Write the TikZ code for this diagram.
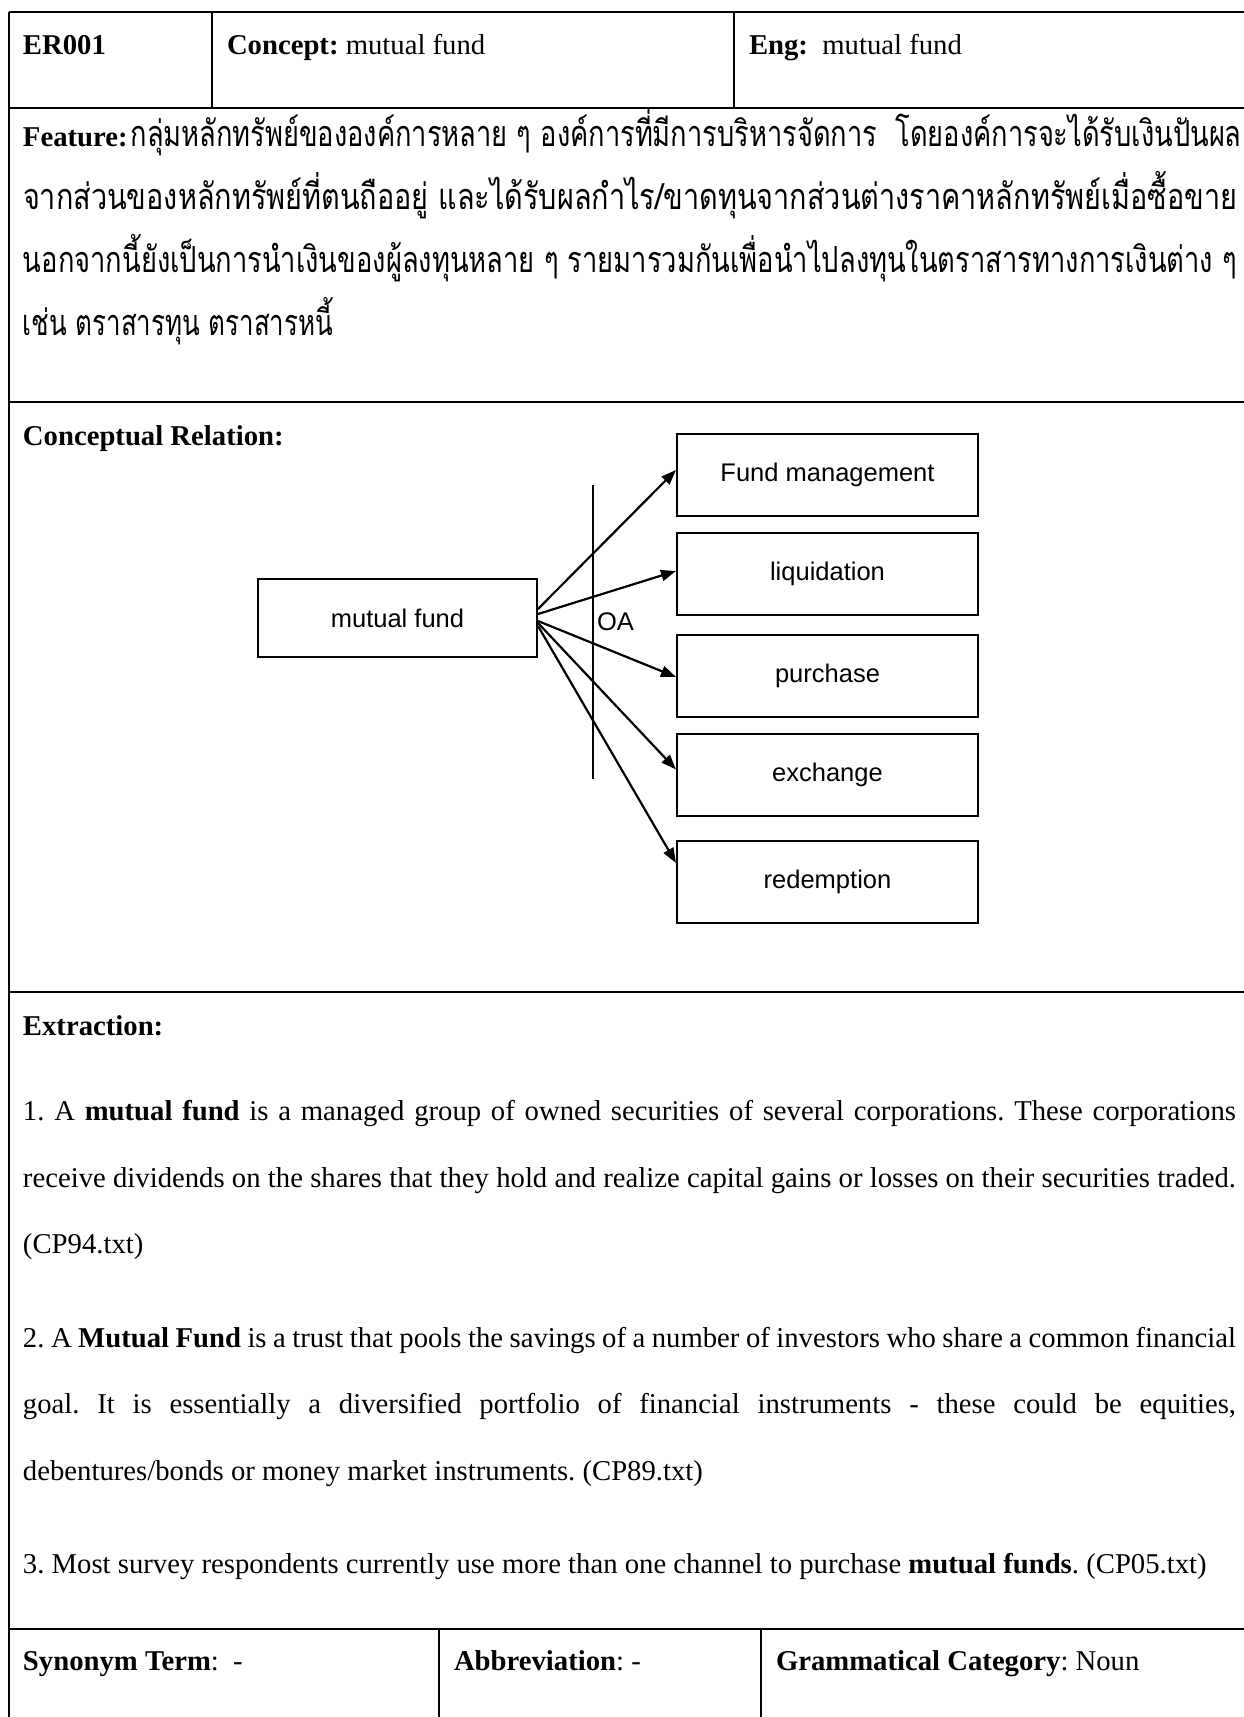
\documentclass[tikz,border=0pt]{standalone}
\usepackage{fontspec}
\usepackage{graphicx}
\setmainfont{Liberation Serif}
\newfontfamily\diagfont{Liberation Sans}
\newfontfamily\thaifont[Script=Thai]{Loma}
\usetikzlibrary{arrows.meta,calc}
\frenchspacing

% one line of Thai text, squeezed to a given width at constant height
\newcommand{\thailine}[2]{\resizebox{#1}{\height}{\thaifont\fontsize{36}{42}\selectfont #2}}
% one justified line of body text
\newcommand{\jline}[1]{\makebox[1213pt][s]{#1}}

\begin{document}
\begin{tikzpicture}[x=1pt,y=-1pt,
  font=\fontsize{28.7}{34}\selectfont,
  rule/.style={line width=2pt},
  txt/.style={anchor=base west,inner sep=0pt,outer sep=0pt},
  conceptbox/.style={draw,line width=2pt,minimum width=301pt,minimum height=82pt,
    inner sep=0pt,font=\diagfont\fontsize{25.5}{30}\selectfont},
  arr/.style={line width=2.2pt,-{Triangle[length=15pt,width=11pt]}}]
\useasboundingbox (0,0) rectangle (1244,1717);

% ---- table rules ----
\draw[rule] (9,12) -- (1244,12);
\draw[rule] (9,12) -- (9,1717);
\draw[rule] (9,108) -- (1244,108);
\draw[rule] (9,402) -- (1244,402);
\draw[rule] (9,992) -- (1244,992);
\draw[rule] (9,1629) -- (1244,1629);
\draw[rule] (212,12) -- (212,108);
\draw[rule] (734,12) -- (734,108);
\draw[rule] (439,1629) -- (439,1717);
\draw[rule] (761,1629) -- (761,1717);

% ---- header row ----
\node[txt] (id) at (23,54) {\textbf{ER001}};
\node[txt] (concept) at (227,54) {\textbf{Concept:} mutual fund};
\node[txt] (eng) at (749,54) {\textbf{Eng:}\ \ mutual fund};

% ---- feature ----
\node[txt] (feat1) at (23,146) {\textbf{Feature:}\hspace{3pt}\thailine{1111pt}{กลุ่มหลักทรัพย์ขององค์การหลาย ๆ องค์การที่มีการบริหารจัดการ\ \ โดยองค์การจะได้รับเงินปันผล}};
\node[txt] (feat2) at (23,209) {\thailine{1214pt}{จากส่วนของหลักทรัพย์ที่ตนถืออยู่ และได้รับผลกำไร/ขาดทุนจากส่วนต่างราคาหลักทรัพย์เมื่อซื้อขาย}};
\node[txt] (feat3) at (23,272) {\thailine{1214pt}{นอกจากนี้ยังเป็นการนำเงินของผู้ลงทุนหลาย ๆ รายมารวมกันเพื่อนำไปลงทุนในตราสารทางการเงินต่าง ๆ}};
\node[txt] (feat4) at (23,335) {\thailine{310pt}{เช่น ตราสารทุน ตราสารหนี้}};

% ---- conceptual relation ----
\node[txt] (crhead) at (23,445) {\textbf{Conceptual Relation:}};

\node[conceptbox,minimum width=279pt,minimum height=78pt] (mf) at (397.5,618) {mutual fund};
\node[conceptbox] (fm)  at (827.5,475)   {Fund management};
\node[conceptbox] (liq) at (827.5,574)   {liquidation};
\node[conceptbox] (pur) at (827.5,676)   {purchase};
\node[conceptbox] (exc) at (827.5,774.5) {exchange};
\node[conceptbox] (red) at (827.5,882)   {redemption};

\coordinate (oatop) at (593,485);
\coordinate (oabot) at (593,779);
\draw[line width=1.6pt] (oatop) -- (oabot);
\node[txt,font=\diagfont\fontsize{25.5}{30}\selectfont] (oa) at (597,630) {OA};

\draw[arr] ($(mf.east)+(0,-9)$) -- ($(fm.west)+(0,-5)$);
\draw[arr] ($(mf.east)+(0,-4)$) -- ($(liq.west)+(0,-3)$);
\draw[arr] ($(mf.east)+(0,3)$)  -- ($(pur.west)+(0,1)$);
\draw[arr] ($(mf.east)+(0,5)$)  -- ($(exc.west)+(0,-5)$);
\draw[arr] ($(mf.east)+(0,8)$)  -- ($(red.west)+(0,-19)$);

% ---- extraction ----
\node[txt] (exhead) at (23,1035) {\textbf{Extraction:}};
\node[txt] (ex1a) at (23,1120) {\jline{1. A \textbf{mutual fund} is a managed group of owned securities of several corporations. These corporations}};
\node[txt] (ex1b) at (23,1187) {\jline{receive dividends on the shares that they hold and realize capital gains or losses on their securities traded.}};
\node[txt] (ex1c) at (23,1253) {(CP94.txt)};
\node[txt] (ex2a) at (23,1347) {\jline{2. A \textbf{Mutual Fund} is a trust that pools the savings of a number of investors who share a common financial}};
\node[txt] (ex2b) at (23,1413) {\jline{goal. It is essentially a diversified portfolio of financial instruments - these could be equities,}};
\node[txt] (ex2c) at (23,1480) {debentures/bonds or money market instruments. (CP89.txt)};
\node[txt] (ex3) at (23,1573) {3. Most survey respondents currently use more than one channel to purchase \textbf{mutual funds}. (CP05.txt)};

% ---- bottom row ----
\node[txt] (syn) at (23,1670) {\textbf{Synonym Term}:\ \ -};
\node[txt] (abbr) at (454,1670) {\textbf{Abbreviation}: -};
\node[txt] (gram) at (776,1670) {\textbf{Grammatical Category}: Noun};
\end{tikzpicture}
\end{document}
